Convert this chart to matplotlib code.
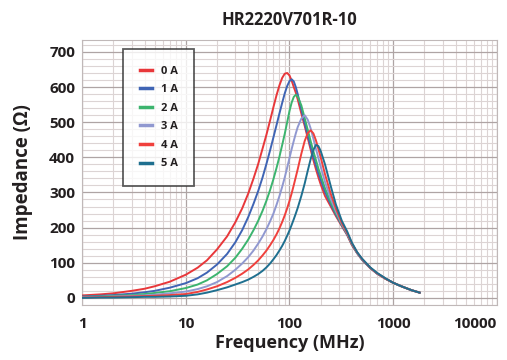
import matplotlib.pyplot as plt
from matplotlib.ticker import LogLocator, MultipleLocator, FixedLocator, NullFormatter

# frequency points (MHz) shared by all curves
freq = [1, 1.5, 2, 3, 4, 5, 7, 10, 13, 16, 20, 25, 30, 35, 40, 45, 50, 55, 60, 65,
        70, 75, 80, 85, 90, 95, 100, 105, 110, 115, 120, 130, 140, 150, 160, 170,
        180, 190, 200, 220, 250, 280, 320, 360, 400, 450, 500, 600, 700, 850,
        1000, 1200, 1500, 1800]

# impedance (ohm), one list per bias current
z_0a = [7, 10, 13, 20, 26, 33, 46, 66, 86, 107, 138, 175, 215, 255, 297, 340,
        382, 425, 465, 505, 543, 577, 605, 626, 638, 640, 633, 618, 600, 584,
        565, 525, 490, 455, 422, 392, 366, 343, 323, 290, 260, 233, 204, 179,
        150, 127, 109, 85, 69, 54, 43, 33, 22, 15]
z_1a = [4, 6, 8, 12, 16, 20, 29, 42, 56, 72, 95, 125, 158, 193, 230, 268,
        305, 343, 382, 420, 457, 492, 525, 555, 582, 603, 617, 622, 616, 600,
        580, 537, 497, 462, 430, 402, 377, 355, 336, 302, 266, 237, 206, 180,
        152, 127, 109, 85, 69, 54, 43, 33, 22, 15]
z_2a = [3, 4, 6, 8, 11, 14, 19, 28, 38, 50, 68, 90, 114, 140, 166, 193,
        220, 248, 277, 307, 338, 370, 402, 435, 467, 500, 532, 556, 572, 578,
        573, 548, 512, 478, 446, 417, 392, 368, 348, 312, 272, 241, 208, 182,
        153, 128, 110, 86, 70, 54, 43, 33, 22, 15]
z_3a = [2, 3, 4, 6, 7, 9, 13, 18, 25, 33, 45, 62, 80, 98, 116, 135,
        155, 175, 196, 218, 240, 265, 290, 316, 343, 371, 398, 424, 447, 468,
        486, 510, 520, 507, 482, 453, 424, 398, 373, 330, 282, 247, 210, 183,
        154, 128, 110, 86, 70, 54, 43, 33, 22, 15]
z_4a = [1, 2, 3, 4, 5, 6, 8, 11, 17, 24, 33, 45, 57, 69, 81, 94,
        107, 121, 135, 150, 165, 181, 198, 216, 235, 255, 276, 298, 321, 344,
        366, 410, 446, 469, 477, 468, 448, 424, 400, 352, 296, 255, 213, 185,
        155, 129, 111, 86, 70, 54, 43, 33, 22, 15]
z_5a = [0, 1, 1, 2, 3, 3, 4, 6, 10, 15, 22, 30, 38, 45, 52, 60,
        68, 77, 87, 98, 110, 122, 135, 148, 162, 177, 192, 208, 224, 240,
        256, 290, 325, 362, 395, 421, 435, 432, 418, 380, 318, 266, 219, 189,
        157, 130, 112, 87, 71, 55, 43, 33, 22, 15]

labels = ['0 A', '1 A', '2 A', '3 A', '4 A', '5 A']
series = [z_0a, z_1a, z_2a, z_3a, z_4a, z_5a]
colors = ['#e8373a', '#3f64b4', '#3cb46e', '#9098d0', '#f0403c', '#1f6f8f']

plt.rcParams['font.family'] = ['Open Sans', 'DejaVu Sans']

fig = plt.figure(figsize=(5.07, 3.6), dpi=100)
ax = fig.add_axes([0.162, 0.153, 0.818, 0.736])

for z, c, lab in zip(series, colors, labels):
    ax.plot(freq, z, color=c, lw=1.4, label=lab, zorder=3)

ax.set_xscale('log')
ax.set_xlim(1, 10000)
ax.set_ylim(-20, 734)

ax.xaxis.set_major_locator(FixedLocator([1, 10, 100, 1000, 10000]))
ax.set_xticklabels(['1', '10', '100', '1000', '10000'])
ax.xaxis.set_minor_locator(LogLocator(base=10, subs=range(2, 10)))
ax.xaxis.set_minor_formatter(NullFormatter())
ax.yaxis.set_major_locator(MultipleLocator(100))
ax.yaxis.set_minor_locator(MultipleLocator(20))

ax.grid(which='major', color='#aea4a4', lw=0.9)
ax.grid(which='minor', color='#dcd4d4', lw=0.8)
ax.set_axisbelow(True)
ax.tick_params(which='both', length=0)
ax.tick_params(axis='y', pad=5, labelsize=11)
ax.tick_params(axis='x', pad=9, labelsize=11)
for t in ax.get_xticklabels() + ax.get_yticklabels():
    t.set_fontweight('bold')
    t.set_color('#231f20')
ax.get_xticklabels()[-1].set_horizontalalignment('right')
for s in ax.spines.values():
    s.set_color('#c0b8b8')
    s.set_linewidth(0.8)

ax.set_xlabel('Frequency (MHz)', fontsize=13, fontweight='bold', color='#231f20', labelpad=2)
ax.set_ylabel('Impedance (Ω)', fontsize=13.5, fontweight='bold', color='#231f20', labelpad=12)
ax.set_title('HR2220V701R-10', fontsize=12, fontweight='bold', color='#231f20', pad=11)

leg = ax.legend(loc='upper left', bbox_to_anchor=(123 / 507, 1 - 49 / 360),
                bbox_transform=fig.transFigure, borderaxespad=0,
                prop={'weight': 'bold', 'size': 8}, fancybox=False,
                borderpad=1.5, labelspacing=0.68, handlelength=1.1,
                handletextpad=0.8, frameon=True)
leg.get_frame().set_edgecolor('#333333')
leg.get_frame().set_linewidth(1.3)
for line in leg.get_lines():
    line.set_linewidth(2.5)
for t in leg.get_texts():
    t.set_color('#231f20')

fig.savefig('out.png', dpi=100)
